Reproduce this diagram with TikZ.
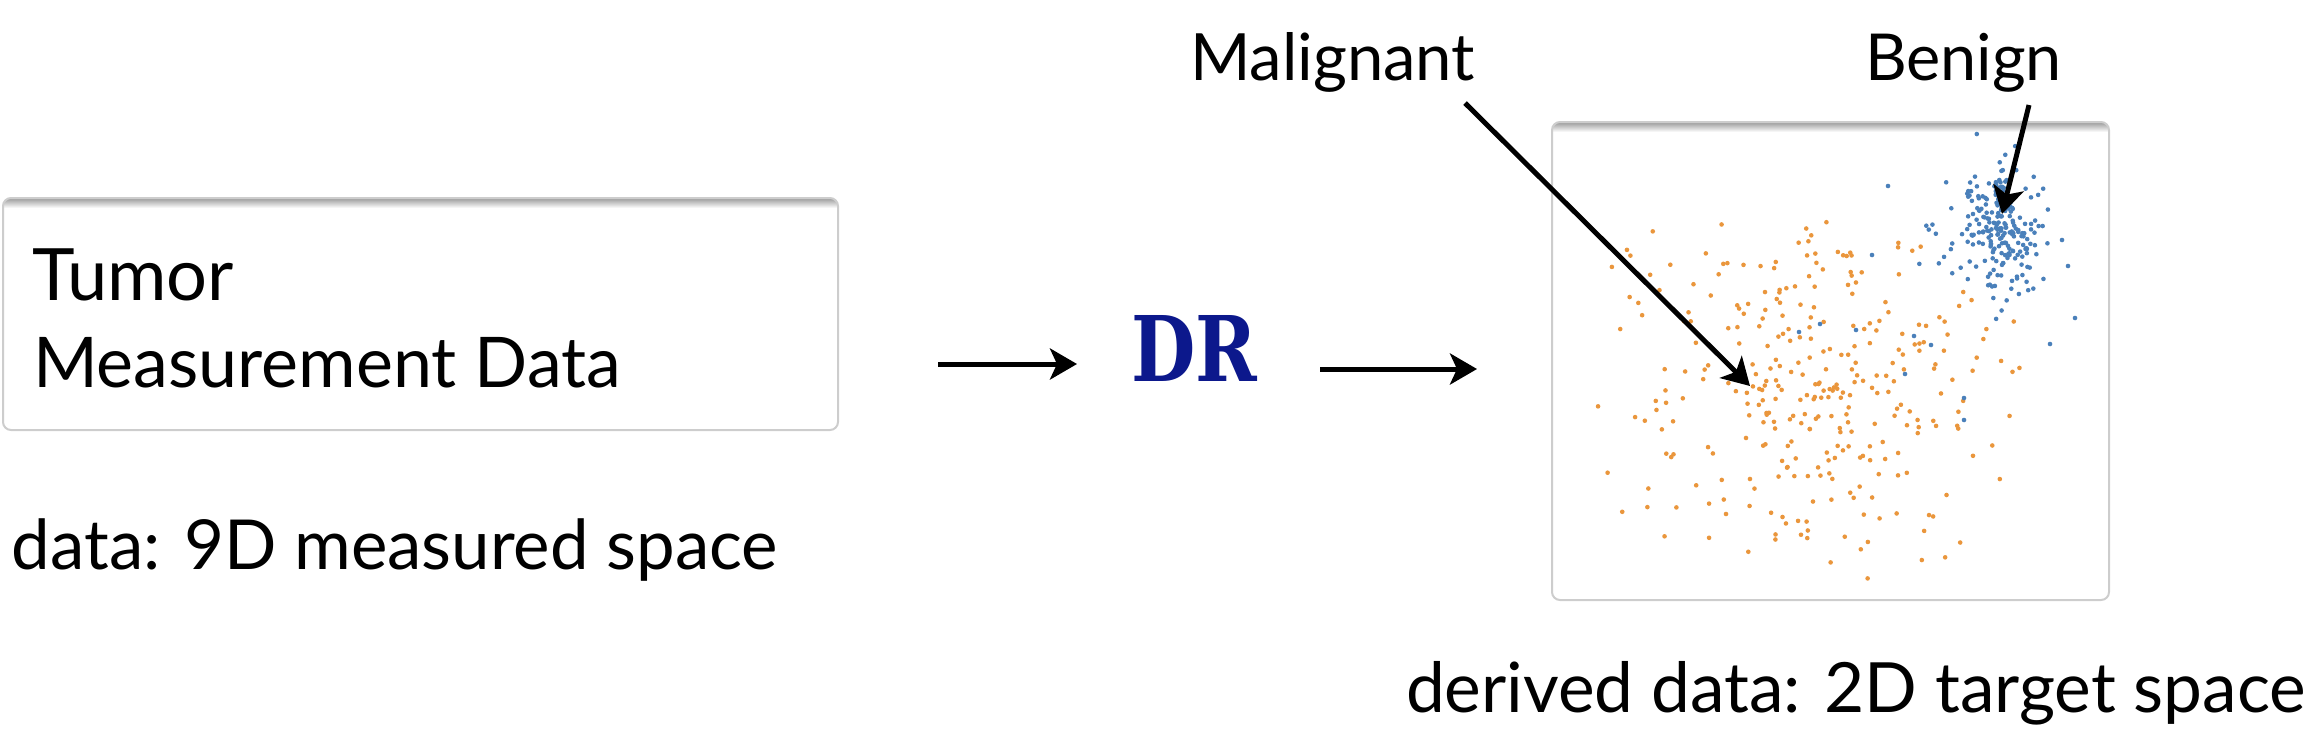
\documentclass[tikz,border=0pt]{standalone}
\usepackage{fontspec}
\setmainfont{Lato}
\newfontfamily\drfont{DejaVu Serif}
\usetikzlibrary{arrows.meta}
\definecolor{drblue}{RGB}{12,24,140}
\definecolor{orgpt}{RGB}{234,150,60}
\definecolor{bluept}{RGB}{74,128,186}
\definecolor{boxline}{RGB}{205,205,205}
\newcommand{\fitw}[2]{\resizebox{#1}{!}{#2}}
\begin{document}
\begin{tikzpicture}[x=1pt,y=-1pt,
  lbl/.style={inner sep=0pt, outer sep=0pt, anchor=base west, font=\fontsize{70}{84}\selectfont},
  arr/.style={line width=5pt, -{Stealth[length=27pt,width=31pt,inset=7pt]}},
  panel/.style={fill=white, inner sep=0pt, outer sep=0pt, anchor=north west, rounded corners=8pt},
  panelline/.style={draw=boxline, line width=2pt, rounded corners=8pt},
  odot/.style={fill=orgpt},
  bdot/.style={fill=bluept}]
\useasboundingbox (0,0) rectangle (2318,740);

% input panel
\node[panel, minimum width=835pt, minimum height=232pt] (inbox) at (3,198) {};
\begin{scope}
  \clip[rounded corners=8pt] (inbox.north west) rectangle (inbox.south east);
  \shade[top color=gray!80, bottom color=white] (inbox.north west) rectangle ([yshift=-10pt]inbox.north east);
\end{scope}
\draw[panelline] (inbox.north west) rectangle (inbox.south east);

% scatter panel
\node[panel, minimum width=557pt, minimum height=478pt] (scat) at (1552,122) {};
\begin{scope}
  \clip[rounded corners=8pt] (scat.north west) rectangle (scat.south east);
  \shade[top color=gray!80, bottom color=white] (scat.north west) rectangle ([yshift=-10pt]scat.north east);
  \pgfmathsetseed{2718}
  \foreach \i in {1,...,320}{
    \pgfmathsetmacro\px{1812+112*(rand+rand)}
    \pgfmathsetmacro\py{398+100*(rand+rand)}
    \fill[odot] (\px,\py) circle (2.3pt);
  }
  \foreach \i in {1,...,190}{
    \pgfmathsetmacro\px{2005+19*(rand+rand+rand)}
    \pgfmathsetmacro\py{228+27*(rand+rand+rand)}
    \fill[bdot] (\px,\py) circle (2.3pt);
  }
  \foreach \i in {1,...,40}{
    \pgfmathsetmacro\px{1985+42*(rand+rand+rand)}
    \pgfmathsetmacro\py{245+40*(rand+rand+rand)}
    \fill[bdot] (\px,\py) circle (2.3pt);
  }
  \foreach \p in {(1820,324),(1856,330),(1799,332),(1914,336),(1931,345),(1905,374),(1964,398),(1964,420),(1888,186),(1872,255),(2075,318),(2050,344),(2062,240),(2068,266)}{
    \fill[bdot] \p circle (2.3pt);
  }
\end{scope}
\draw[panelline] (scat.north west) rectangle (scat.south east);

% texts
\node[lbl] (tumor) at (32,300) {\fitw{202pt}{Tumor}};
\node[lbl] (meas) at (33,387) {\fitw{588pt}{Measurement Data}};
\node[lbl] (dlab) at (12,569) {\fitw{766pt}{data: 9D measured space}};
\node[lbl, text=drblue] (dr) at (1131,381) {\resizebox{126pt}{66pt}{\drfont\bfseries DR}};
\node[lbl] (mal) at (1190,80) {\fitw{285pt}{Malignant}};
\node[lbl] (ben) at (1865,80) {\fitw{197pt}{Benign}};
\node[lbl] (dd) at (1406,712) {\fitw{900pt}{derived data: 2D target space}};

% connectors
\coordinate (a1s) at (938,364);
\coordinate (a1e) at (1077,364);
\coordinate (a2s) at (1320,369);
\coordinate (a2e) at (1477,369);
\coordinate (mals) at (1465,103);
\coordinate (male) at (1750,386);
\coordinate (bens) at (2029,105);
\coordinate (bene) at (2002,214);
\draw[arr] (a1s) -- (a1e);
\draw[arr] (a2s) -- (a2e);
\draw[arr] (mals) -- (male);
\draw[arr] (bens) -- (bene);
\end{tikzpicture}
\end{document}
